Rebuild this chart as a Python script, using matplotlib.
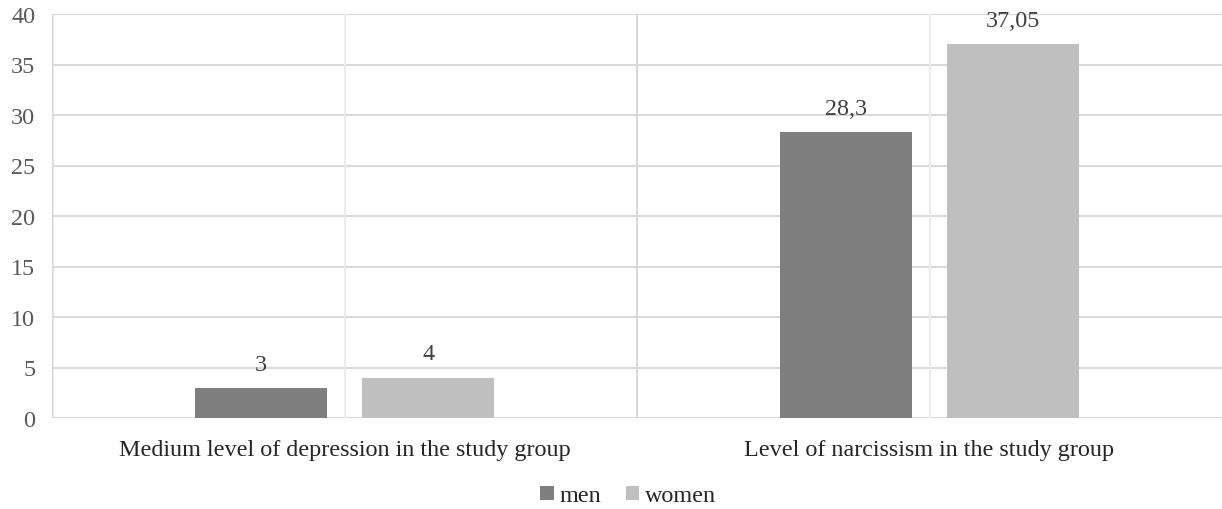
import matplotlib
matplotlib.use("Agg")
import matplotlib.pyplot as plt
import numpy as np

categories = ["Medium level of depression in the study group", "Level of narcissism in the study group"]
series_names = ["men", "women"]
men = [3, 28.3]
women = [4, 37.05]
men_labels = ["3", "28,3"]
women_labels = ["4", "37,05"]
yticks = [0, 5, 10, 15, 20, 25, 30, 35, 40]

plt.rcParams['font.family'] = ['Liberation Serif', 'DejaVu Serif']
FS = 17.4

fig = plt.figure(figsize=(12.22, 5.10), dpi=100)
ax = fig.add_axes([52/1222, 1-419/510, (1222-52)/1222, (419-15)/510])

x = np.arange(len(categories))
w = 0.225
off = 0.143
c_men = "#7f7f7f"
c_women = "#bfbfbf"

ax.set_xlim(-0.5, len(categories) - 0.5)
ax.set_ylim(0, 40)

# gridlines
for yv in yticks:
    ax.axhline(yv, color="#d9d9d9", lw=1.5, zorder=0)
for i in range(len(categories)):
    ax.axvline(i, color="#ececec", lw=1.5, zorder=0)
for b in np.arange(0.5, len(categories) - 0.5, 1):
    ax.axvline(b, color="#d9d9d9", lw=1.5, zorder=0)
ax.axvline(-0.5, color="#d9d9d9", lw=1.8, zorder=0)

b1 = ax.bar(x - off, men, w, color=c_men, label=series_names[0], zorder=2)
b2 = ax.bar(x + off, women, w, color=c_women, label=series_names[1], zorder=2)

for rects, labs in ((b1, men_labels), (b2, women_labels)):
    for r, l in zip(rects, labs):
        ax.annotate(l, (r.get_x() + r.get_width()/2, r.get_height()),
                    xytext=(0, 9.5), textcoords="offset points",
                    ha="center", va="bottom", fontsize=FS, color="#404040")

for s in ax.spines.values():
    s.set_visible(False)

ax.set_yticks(yticks)
ax.set_yticklabels([str(v) for v in yticks])
ax.set_xticks(x)
ax.set_xticklabels(categories)
ax.tick_params(axis='y', length=0, pad=12, labelsize=FS, labelcolor="#595959")
ax.tick_params(axis='x', length=0, pad=15, labelsize=FS, labelcolor="#262626")

leg = fig.legend(handles=[b1, b2], labels=series_names, loc="center",
                 bbox_to_anchor=(0.514, 1-497/510), ncol=2, frameon=False,
                 fontsize=FS, handlelength=0.55, handleheight=0.55,
                 handletextpad=0.25, columnspacing=1.0)
for t in leg.get_texts():
    t.set_color("#262626")

fig.savefig("out.png", dpi=100)
